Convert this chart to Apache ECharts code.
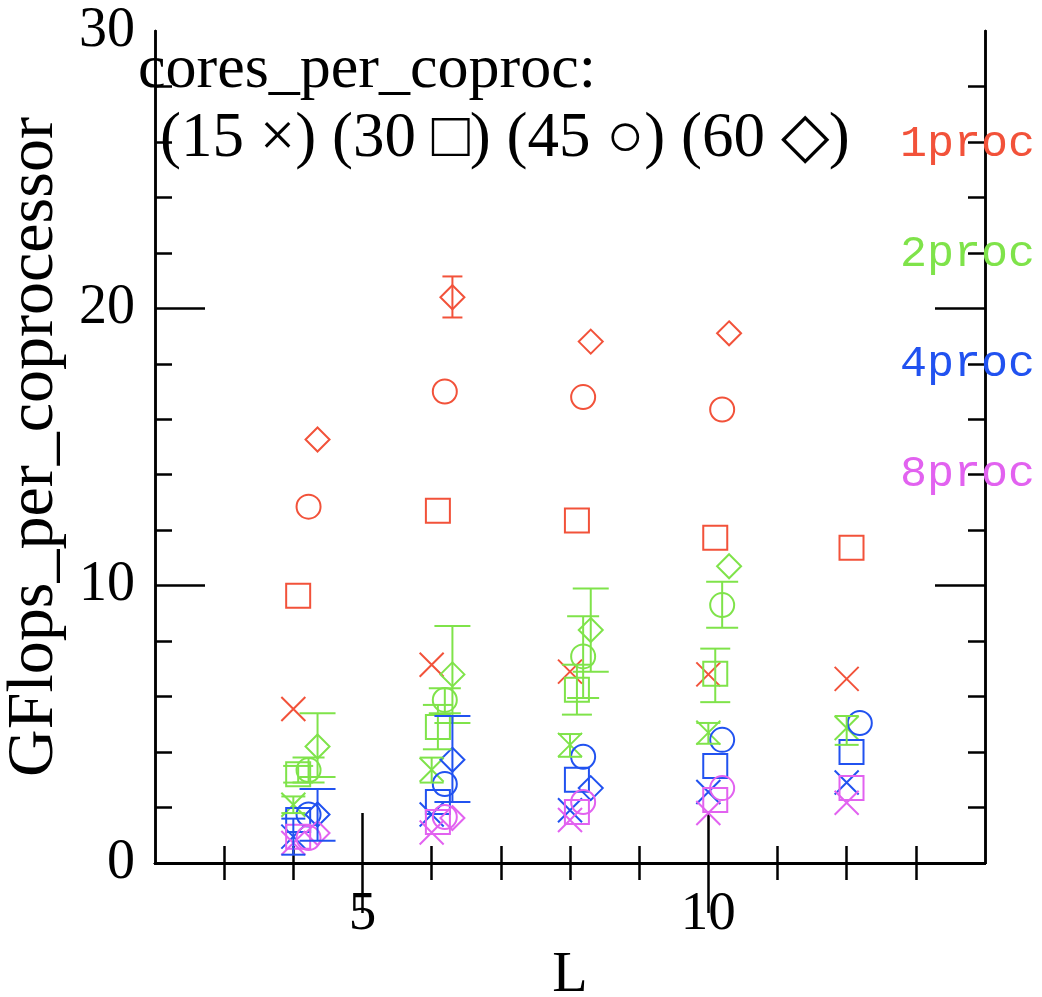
<!DOCTYPE html>
<html>
<head>
<meta charset="utf-8">
<script src="https://cdn.jsdelivr.net/npm/echarts@6/dist/echarts.min.js"></script>
<style>
html,body{margin:0;padding:0;background:#fff;}
#chart{width:1042px;height:997px;}
</style>
</head>
<body>
<div id="chart"></div>
<script>
// ---- data ----
const Lvals = [4, 6, 8, 10, 12];
// plotted x positions per cores_per_coproc (small offsets as in the picture)
const x15 = [4.0, 6.0, 8.0, 10.0, 12.0];
const x30 = [4.07, 6.09, 8.1, 10.1, 12.07];
const x45 = [4.22, 6.19, 8.19, 10.2, 12.19];
const x60 = [4.35, 6.3, 8.3, 10.3, 12.3];

// 1proc (red)
const r15 = [5.55, 7.15, 6.9, 6.8, 6.64];
const r30 = [9.64, 12.7, 12.35, 11.73, 11.37];
const r45 = [12.85, 17.0, 16.8, 16.35, null];
const r60 = [15.27, 20.4, 18.8, 19.1, null];
const r60lo = [null, 19.67, null, null, null];
const r60hi = [null, 21.15, null, null, null];

// 2proc (green)
const g15 = [2.1, 3.36, 4.26, 4.7, 4.87];
const g15lo = [1.8, 2.9, 3.83, 4.3, 4.26];
const g15hi = [2.4, 3.8, 4.65, 5.05, 5.3];
const g30 = [3.2, 4.9, 6.25, 6.82, null];
const g30lo = [2.9, 4.1, 5.35, 5.8, null];
const g30hi = [3.5, 5.7, 7.15, 7.73, null];
const g45 = [3.35, 5.88, 7.45, 9.3, null];
const g45lo = [2.9, 5.4, 5.95, 8.48, null];
const g45hi = [3.8, 6.3, 8.9, 10.14, null];
const g60 = [4.2, 6.8, 8.4, 10.7, null];
const g60lo = [3.1, 5.05, 6.9, null, null];
const g60hi = [5.4, 8.55, 9.9, null, null];

// 4proc (blue)
const b15 = [0.95, 1.75, 1.9, 2.56, 2.9];
const b15lo = [0.3, null, null, null, null];
const b15hi = [1.6, null, null, null, null];
const b30 = [1.55, 2.2, 3.0, 3.5, 4.0];
const b45 = [1.75, 2.85, 3.83, 4.44, 5.05];
const b60 = [1.75, 3.72, 2.7, null, null];
const b60lo = [0.8, 2.2, null, null, null];
const b60hi = [2.67, 5.3, null, null, null];

// 8proc (magenta)
const m15 = [0.72, 1.1, 1.55, 1.8, 2.17];
const m30 = [0.95, 1.48, 1.84, 2.27, 2.7];
const m45 = [0.9, 1.66, 2.2, 2.7, null];
const m60 = [1.08, 1.62, null, null, null];

const xTickMinor = [3, 4, 6, 7, 8, 9, 11, 12, 13];
const xTickMajor = [5, 10];
const yTickMinor = [2, 4, 6, 8, 12, 14, 16, 18, 22, 24, 26, 28];
const yTickMajor = [10, 20];
const yLabels = [0, 10, 20, 30];
const procLabels = ['1proc', '2proc', '4proc', '8proc'];
const legendTitle = 'cores_per_coproc:';
const legendLine = '(15 \u00d7) (30 \u25a1) (45 \u25cb) (60 \u25c7)';

// ---- styles ----
const RED = '#f2523a', GREEN = '#7fe34a', BLUE = '#2152f0', MAG = '#e262f0';
const CROSS = 'path://M0,0L10,10M10,0L0,10';
const SYM = {15: CROSS, 30: 'rect', 45: 'circle', 60: 'diamond'};

function pts(xs, ys) {
  const out = [];
  for (let i = 0; i < xs.length; i++) if (ys[i] != null) out.push([xs[i], ys[i]]);
  return out;
}
function errs(xs, lo, hi) {
  const out = [];
  for (let i = 0; i < xs.length; i++) if (lo[i] != null && hi[i] != null) out.push([xs[i], lo[i], hi[i]]);
  return out;
}
function scat(name, xs, ys, cores, color) {
  return {
    name: name, type: 'scatter', data: pts(xs, ys), symbol: SYM[cores],
    symbolSize: 24,
    itemStyle: {color: 'rgba(0,0,0,0)', borderColor: color, borderWidth: 2, opacity: 1},
    emphasis: {disabled: true}, silent: true, z: 3
  };
}
function errSeries(data, color, cap) {
  return {
    type: 'custom', data: data, silent: true, z: 4,
    renderItem: function (params, api) {
      const x = api.value(0), lo = api.value(1), hi = api.value(2);
      const a = api.coord([x, lo]), b = api.coord([x, hi]);
      const st = {stroke: color, lineWidth: 2};
      return {type: 'group', children: [
        {type: 'line', shape: {x1: a[0], y1: a[1], x2: b[0], y2: b[1]}, style: st},
        {type: 'line', shape: {x1: a[0] - cap, y1: a[1], x2: a[0] + cap, y2: a[1]}, style: st},
        {type: 'line', shape: {x1: b[0] - cap, y1: b[1], x2: b[0] + cap, y2: b[1]}, style: st}
      ]};
    }
  };
}

const axLine = {show: true, lineStyle: {color: '#000', width: 2.5}};
const tickStyle = {color: '#000', width: 2.5};
const serif = 'Liberation Serif';

function xAx(pos, vals, len, withLabels) {
  const o = {
    type: 'value', position: pos, min: 2, max: 14, interval: 1,
    axisLine: axLine, splitLine: {show: false},
    axisTick: {show: true, inside: true, length: len, customValues: vals, lineStyle: tickStyle},
    axisLabel: {show: false}
  };
  if (withLabels) {
    o.axisLabel = {show: true, customValues: xTickMajor, color: '#000', fontFamily: serif, fontSize: 55, margin: 24};
    o.name = 'L'; o.nameLocation = 'middle'; o.nameGap = 82;
    o.nameTextStyle = {color: '#000', fontFamily: serif, fontSize: 58};
  }
  return o;
}
function yAx(pos, vals, len, withLabels) {
  const o = {
    type: 'value', position: pos, min: 0, max: 30, interval: 2,
    axisLine: axLine, splitLine: {show: false},
    axisTick: {show: true, inside: true, length: len, customValues: vals, lineStyle: tickStyle},
    axisLabel: {show: false}
  };
  if (withLabels) {
    o.axisLabel = {show: true, customValues: yLabels, color: '#000', fontFamily: serif, fontSize: 56, margin: 20};
    o.name = 'GFlops_per_coprocessor'; o.nameLocation = 'middle'; o.nameGap = 80;
    o.nameTextStyle = {color: '#000', fontFamily: serif, fontSize: 66};
  }
  return o;
}

const series = [
  scat('1p15', x15, r15, 15, RED), scat('1p30', x30, r30, 30, RED),
  scat('1p45', x45, r45, 45, RED), scat('1p60', x60, r60, 60, RED),
  errSeries(errs(x60, r60lo, r60hi), RED, 10),
  scat('2p15', x15, g15, 15, GREEN), scat('2p30', x30, g30, 30, GREEN),
  scat('2p45', x45, g45, 45, GREEN), scat('2p60', x60, g60, 60, GREEN),
  errSeries(errs(x15, g15lo, g15hi), GREEN, 12),
  errSeries(errs(x30, g30lo, g30hi), GREEN, 15),
  errSeries(errs(x45, g45lo, g45hi), GREEN, 16),
  errSeries(errs(x60, g60lo, g60hi), GREEN, 18),
  scat('4p15', x15, b15, 15, BLUE), scat('4p30', x30, b30, 30, BLUE),
  scat('4p45', x45, b45, 45, BLUE), scat('4p60', x60, b60, 60, BLUE),
  errSeries(errs(x15, b15lo, b15hi), BLUE, 12),
  errSeries(errs(x60, b60lo, b60hi), BLUE, 18),
  scat('8p15', x15, m15, 15, MAG), scat('8p30', x30, m30, 30, MAG),
  scat('8p45', x45, m45, 45, MAG), scat('8p60', x60, m60, 60, MAG)
];

const procColors = [RED, GREEN, BLUE, MAG];
const graphics = [
  {type: 'text', left: 138, top: 40, style: {text: legendTitle, font: '62px "Liberation Serif"', fill: '#000'}},
  {type: 'text', left: 160, top: 108, style: {text: legendLine, font: '63px "Liberation Serif"', fill: '#000'}}
];
procLabels.forEach(function (t, i) {
  graphics.push({type: 'text', left: 900, top: 122 + i * 110, z: 10,
    style: {text: t, font: '45px "Liberation Mono"', fill: procColors[i]}});
});

const chart = echarts.init(document.getElementById('chart'), null, {renderer: 'canvas'});
chart.setOption({
  backgroundColor: '#fff',
  animation: false,
  grid: {left: 155, right: 57, top: 31, bottom: 134, containLabel: false, outerBoundsMode: 'none'},
  xAxis: [
    xAx('bottom', xTickMinor, 17, true),
    xAx('bottom', xTickMajor, 50, false),
    xAx('top', xTickMinor, 17, false),
    xAx('top', xTickMajor, 50, false)
  ],
  yAxis: [
    yAx('left', yTickMinor, 17, true),
    yAx('left', yTickMajor, 50, false),
    yAx('right', yTickMinor, 17, false),
    yAx('right', yTickMajor, 50, false)
  ],
  series: series,
  graphic: graphics
});
</script>
</body>
</html>
